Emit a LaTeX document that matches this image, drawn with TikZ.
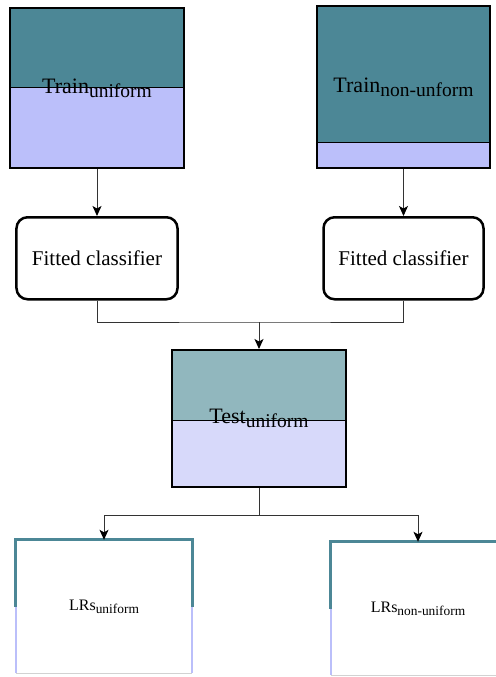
\documentclass[tikz,border=0pt]{standalone}
\usepackage{fontspec}
\setmainfont{Liberation Serif}
\usetikzlibrary{arrows.meta,positioning}
\definecolor{tealtop}{RGB}{76,135,150}
\definecolor{lavbot}{RGB}{187,191,250}
\definecolor{tealpale}{RGB}{145,183,190}
\definecolor{lavpale}{RGB}{215,217,250}
\definecolor{wirec}{RGB}{51,51,51}
\newcommand{\lowtxt}[2][19.5bp]{{\fontsize{#1}{#1}\selectfont\raisebox{-0.2em}{#2}}}

\begin{document}
\begin{tikzpicture}[
        x=1bp, y=-1bp,
        node distance=47bp,
        font=\fontsize{22bp}{26bp}\selectfont,
        databox/.style={rectangle, draw=black, line width=2bp, minimum width=174bp, minimum height=160bp, inner sep=0pt},
        splitfill/.style n args={3}{path picture={
            \fill[#2] (path picture bounding box.north west) rectangle (path picture bounding box.south east);
            \fill[#1] (path picture bounding box.north west) rectangle ([yshift=-#3]path picture bounding box.north east);
            \draw[line width=1bp] ([yshift=-#3]path picture bounding box.north west) -- ([yshift=-#3]path picture bounding box.north east);}},
        fitbox/.style={rectangle, rounded corners=11bp, draw=black, line width=2.5bp, minimum width=161bp, minimum height=82bp, fill=white, font=\fontsize{21bp}{25bp}\selectfont},
        lrsbox/.style={rectangle, minimum width=174bp, minimum height=133bp, font=\fontsize{16bp}{19bp}\selectfont},
        wire/.style={wirec, line width=1bp},
        arrow/.style={-{Stealth[length=10bp,width=9bp,inset=2.5bp,black]}, wirec, line width=1bp}
    ]
        \clip (0,0) rectangle (496,677);

        % Training sets
        \node[databox, splitfill={tealtop}{lavbot}{80bp}] (trainu) at (97,88) {Train\lowtxt{uniform}};
        \node[databox, minimum width=173bp, minimum height=162bp, splitfill={tealtop}{lavbot}{136bp}] (trainn) at (403.5,87) {Train\lowtxt{non-unform}};

        % Classifiers
        \node[fitbox] (fitu) [below=of trainu] {Fitted classifier};
        \node[fitbox, minimum width=160bp] (fitn) [below=of trainn] {Fitted classifier};

        % Test set
        \node[databox, minimum height=137bp, splitfill={tealpale}{lavpale}{70bp}] (testu) at (259,418.5) {Test\lowtxt{uniform}};
        \coordinate (merge) at ([yshift=27bp]testu.north);
        \coordinate (fork) at ([yshift=-27bp]testu.south);

        % Likelihood ratios
        \node[lrsbox, minimum width=176bp] (lrsu) at (104,606.5) {LRs\lowtxt[13.4bp]{uniform}};
        \node[lrsbox] (lrsn) at (418,608.5) {LRs\lowtxt[13.4bp]{non-uniform}};
        \foreach \b in {lrsu,lrsn} {
            \draw[gray!35, line width=1bp] (\b.south west) -- (\b.south east);
            \draw[lavbot, line width=2.5bp] (\b.west) -- (\b.south west);
            \draw[lavbot, line width=2.5bp] (\b.east) -- (\b.south east);
            \draw[tealtop, line width=3bp] (\b.west) -- (\b.north west) -- (\b.north east) -- (\b.east);
        }

        % Arrows
        \draw[arrow] (trainu) -- (fitu);
        \draw[arrow] (trainn) -- (fitn);
        \draw[wire] (fitu.south) |- (merge) -| (fitn.south);
        \draw[arrow] (merge) -- (testu.north);
        \draw[wire] (testu.south) -- (fork);
        \draw[arrow] (fork) -| (lrsu.north);
        \draw[arrow] (fork) -| (lrsn.north);

    \end{tikzpicture}
\end{document}
